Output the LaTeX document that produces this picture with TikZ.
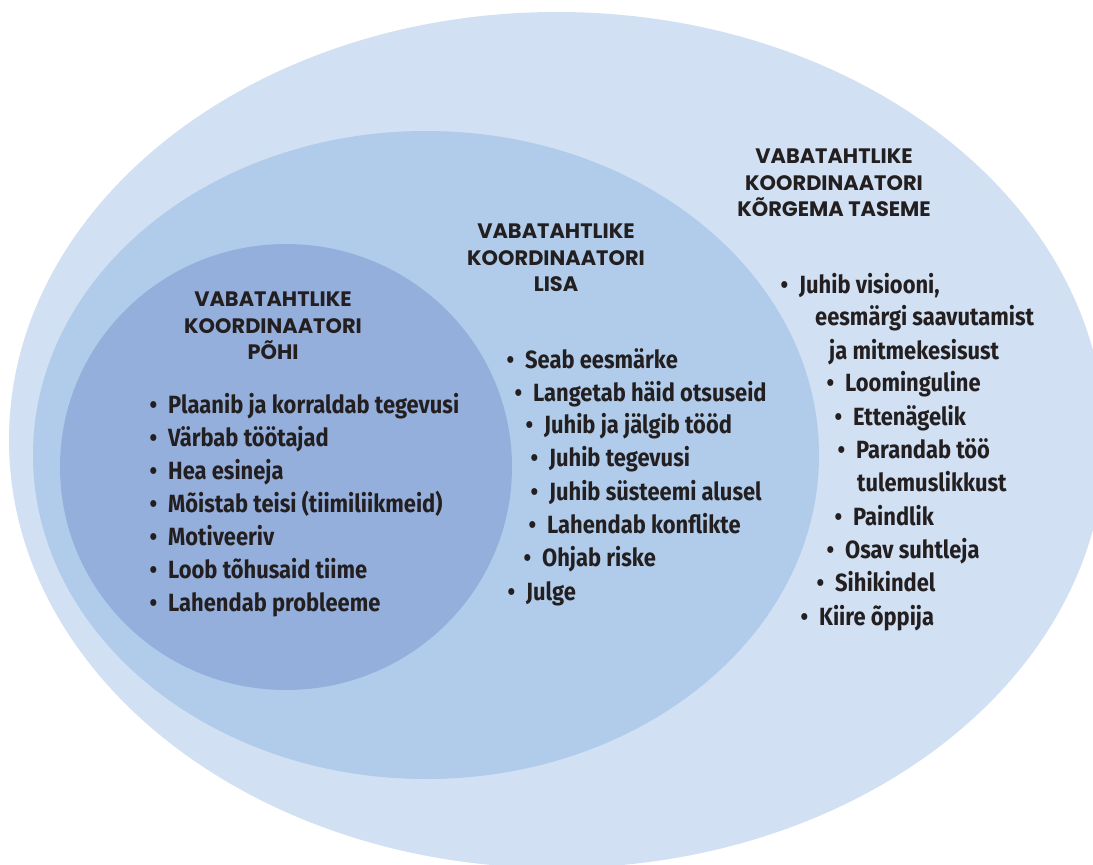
\documentclass[tikz,border=0pt]{standalone}
\usepackage{fontspec}
\newfontfamily\headfont{Poppins}
\newfontfamily\bodyfont[FakeStretch=0.88]{Fira Sans}
\definecolor{ringout}{RGB}{209,224,242}
\definecolor{ringmid}{RGB}{176,204,234}
\definecolor{ringin}{RGB}{148,175,219}
\definecolor{inktxt}{RGB}{35,31,32}
\newcommand{\bul}{\llap{\textbullet\hspace{11bp}}}

\begin{document}
\begin{tikzpicture}[x=1bp, y=-1bp,
  every node/.style={inner sep=0pt, text=inktxt},
  headtxt/.style={align=center, font=\headfont\bfseries\fontsize{21}{26.5}\selectfont},
  itemtxt/.style={anchor=base west, font=\bodyfont\bfseries\fontsize{25}{33}\selectfont}]
  \useasboundingbox (0,0) rectangle (1093,865);
  \clip (0,0) rectangle (1093,865);
  \fill[white] (0,0) rectangle (1093,865);

  % rings
  \fill[ringout] (557,440) ellipse [x radius=548, y radius=428];
  \fill[ringmid] (426,455) ellipse [x radius=393, y radius=324];
  \fill[ringin] (286,467) ellipse [x radius=226, y radius=223];

  % headings
  \node[headtxt] (pohiHead) at (273,326) {VABATAHTLIKE\\KOORDINAATORI\\PÕHI};
  \node[headtxt] (lisaHead) at (556,258) {VABATAHTLIKE\\KOORDINAATORI\\LISA};
  \node[headtxt] (korgHead) at (834,183) {VABATAHTLIKE\\KOORDINAATORI\\KÕRGEMA TASEME};

  % pohi
  \node[itemtxt] (pohi1) at (168,413) {\bul Plaanib ja korraldab tegevusi};
  \node[itemtxt] (pohi2) at (168,446) {\bul Värbab töötajad};
  \node[itemtxt] (pohi3) at (168,479) {\bul Hea esineja};
  \node[itemtxt] (pohi4) at (168,512) {\bul Mõistab teisi (tiimiliikmeid)};
  \node[itemtxt] (pohi5) at (168,545) {\bul Motiveeriv};
  \node[itemtxt] (pohi6) at (168,578) {\bul Loob tõhusaid tiime};
  \node[itemtxt] (pohi7) at (168,611) {\bul Lahendab probleeme};

  % lisa
  \node[itemtxt] (lisa1) at (525,368) {\bul Seab eesmärke};
  \node[itemtxt] (lisa2) at (533,401) {\bul Langetab häid otsuseid};
  \node[itemtxt] (lisa3) at (544,433) {\bul Juhib ja jälgib tööd};
  \node[itemtxt] (lisa4) at (549,466) {\bul Juhib tegevusi};
  \node[itemtxt] (lisa5) at (549,500) {\bul Juhib süsteemi alusel};
  \node[itemtxt] (lisa6) at (547,533) {\bul Lahendab konflikte};
  \node[itemtxt] (lisa7) at (542,566) {\bul Ohjab riske};
  \node[itemtxt] (lisa8) at (526,600) {\bul Julge};

  % korgem
  \node[itemtxt] (korg1) at (799,293) {\bul Juhib visiooni,};
  \node[itemtxt] (korg1b) at (815,325) {eesmärgi saavutamist};
  \node[itemtxt] (korg1c) at (829,359) {ja mitmekesisust};
  \node[itemtxt] (korg2) at (845,391) {\bul Loominguline};
  \node[itemtxt] (korg3) at (853,425) {\bul Ettenägelik};
  \node[itemtxt] (korg4) at (856,458) {\bul Parandab töö};
  \node[itemtxt] (korg4b) at (857,491) {tulemuslikkust};
  \node[itemtxt] (korg5) at (853,525) {\bul Paindlik};
  \node[itemtxt] (korg6) at (845,558) {\bul Osav suhtleja};
  \node[itemtxt] (korg7) at (835,591) {\bul Sihikindel};
  \node[itemtxt] (korg8) at (819,625) {\bul Kiire õppija};
\end{tikzpicture}
\end{document}
